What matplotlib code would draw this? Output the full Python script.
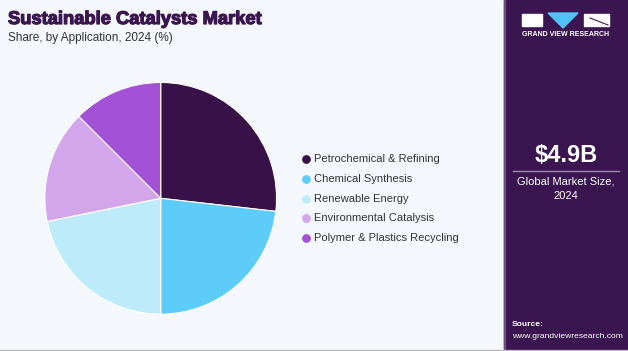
import numpy as np
import matplotlib.pyplot as plt
import matplotlib.patheffects as pe
from matplotlib.patches import Rectangle, Polygon

plt.rcParams['font.family'] = ['Liberation Sans', 'DejaVu Sans']

# data
segments = ['Petrochemical & Refining', 'Chemical Synthesis', 'Renewable Energy',
            'Environmental Catalysis', 'Polymer & Plastics Recycling']
shares = [26.8, 23.2, 21.8, 15.7, 12.5]
colors = ['#371148', '#5ECCF8', '#BEEBFA', '#D3A6EC', '#A352D6']

W, H = 628, 351
bg = '#F4F8FC'
panel = '#3A1550'

fig = plt.figure(figsize=(W / 100, H / 100), dpi=100)
fig.patch.set_facecolor(bg)

# overlay axes in pixel coords for text and panel
ov = fig.add_axes([0, 0, 1, 1])
ov.set_xlim(0, W)
ov.set_ylim(H, 0)
ov.axis('off')

ov.add_patch(Rectangle((504, 0), W - 504, 349, color=panel, zorder=1))
ov.add_patch(Rectangle((504, 0), 1.2, 349, color='#6B4A80', zorder=2))

ov.text(8, 19.5, 'Sustainable Catalysts Market', fontsize=13.2, fontweight='bold',
        color='#3A1550', va='center', ha='left',
        path_effects=[pe.withStroke(linewidth=0.9, foreground='#3A1550')])
ov.text(8, 38, 'Share, by Application, 2024 (%)', fontsize=8.5, color='#333333',
        va='center', ha='left')

# logo
ov.add_patch(Rectangle((522, 14), 20, 12, color='white', zorder=3))
ov.add_patch(Polygon([(548, 13), (578, 13), (563, 28)], color='#4FC3F7', zorder=3))
ov.add_patch(Rectangle((584, 14), 25, 12, color='white', zorder=3))
ov.plot([590, 608], [18, 25], color=panel, lw=0.8, zorder=4)
ov.text(566, 34, 'GRAND VIEW RESEARCH', fontsize=5, fontweight='bold', color='white',
        ha='center', va='center', zorder=4)

# market size
ov.text(566, 156, '$4.9B', fontsize=17, fontweight='bold', color='white',
        ha='center', va='center', zorder=4)
ov.plot([513, 619], [170.5, 170.5], color='#A08AB0', lw=1, zorder=4)
ov.text(566, 182, 'Global Market Size,', fontsize=8, color='white',
        ha='center', va='center', zorder=4)
ov.text(566, 196, '2024', fontsize=8, color='white', ha='center', va='center', zorder=4)

ov.text(512, 325, 'Source:', fontsize=6.1, fontweight='bold', color='white',
        ha='left', va='center', zorder=4)
ov.text(512, 336, 'www.grandviewresearch.com', fontsize=6.1, color='white',
        ha='left', va='center', zorder=4)
ov.plot([0, W], [350, 350], color='#BBBBBB', lw=1, zorder=4)

# legend
for i, (lab, c) in enumerate(zip(segments, colors)):
    y = 159 + i * 19.8
    ov.scatter([306], [y], s=28, color=c, zorder=4)
    ov.text(314, y, lab, fontsize=8, color='#333333', ha='left', va='center', zorder=4)

# pie
cx, cy, r = 160.7, 198.3, 117
ax = fig.add_axes([(cx - r) / W, (H - cy - r) / H, 2 * r / W, 2 * r / H])
ax.pie(shares, colors=colors, startangle=90, counterclock=False, radius=1,
       wedgeprops=dict(edgecolor='white', linewidth=0.8))
ax.set_xlim(-1.01, 1.01)
ax.set_ylim(-1.01, 1.01)
ax.axis('off')

plt.savefig('out.png', dpi=100, facecolor=bg)
